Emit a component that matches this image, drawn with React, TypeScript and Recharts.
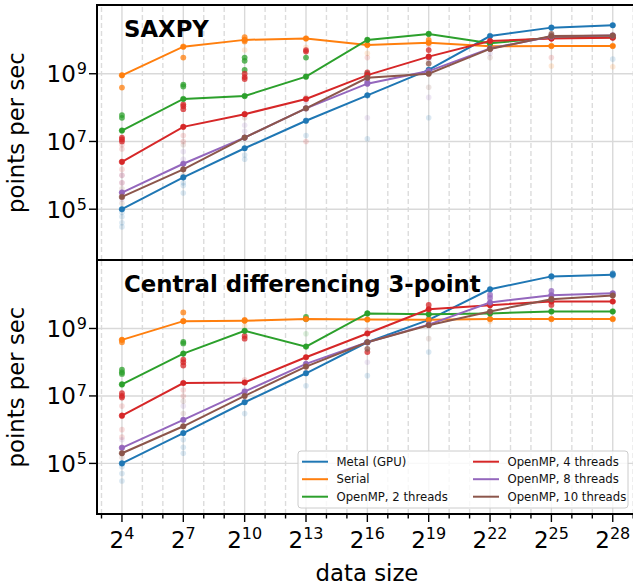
import React from 'react';
import { ComposedChart, Line, Scatter, XAxis, YAxis, ReferenceLine } from 'recharts';

// data sizes are powers of two, measured at these exponents
const sizeExponents = [4, 7, 10, 13, 16, 19, 22, 25, 28];
const gridExponents = [3, 4, 5, 6, 7, 8, 9, 10, 11, 12, 13, 14, 15, 16, 17, 18, 19, 20, 21, 22, 23, 24, 25, 26, 27, 28, 29];
const yTickValues = [1e5, 1e7, 1e9];

const seriesKeys = ['metal', 'serial', 'omp2', 'omp4', 'omp8', 'omp10'];
const seriesNames = ['Metal (GPU)', 'Serial', 'OpenMP, 2 threads', 'OpenMP, 4 threads', 'OpenMP, 8 threads', 'OpenMP, 10 threads'];
const seriesColors = ['#1f77b4', '#ff7f0e', '#2ca02c', '#d62728', '#9467bd', '#8c564b'];

// SAXPY, points per sec (median line)
const saxpyMetal = [1.0e5, 8.7e5, 6.3e6, 4.1e7, 2.3e8, 1.3e9, 1.3e10, 2.3e10, 2.7e10];
const saxpySerial = [9.0e8, 6.3e9, 1.0e10, 1.1e10, 7.1e9, 8.2e9, 6.5e9, 6.6e9, 6.6e9];
const saxpyOmp2 = [2.1e7, 1.8e8, 2.2e8, 8.2e8, 1.0e10, 1.5e10, 8.0e9, 1.15e10, 1.2e10];
const saxpyOmp4 = [2.5e6, 2.7e7, 6.4e7, 1.8e8, 9.1e8, 3.2e9, 9.3e9, 1.1e10, 1.15e10];
const saxpyOmp8 = [3.1e5, 2.2e6, 1.3e7, 9.5e7, 5.1e8, 1.2e9, 5.6e9, 1.25e10, 1.35e10];
const saxpyOmp10 = [2.3e5, 1.5e6, 1.3e7, 9.5e7, 7.6e8, 1.0e9, 5.4e9, 1.3e10, 1.35e10];

// Central differencing 3-point
const cdMetal = [1.0e5, 7.9e5, 6.5e6, 4.7e7, 3.9e8, 1.8e9, 1.45e10, 3.5e10, 3.9e10];
const cdSerial = [4.6e8, 1.65e9, 1.7e9, 1.9e9, 1.85e9, 1.8e9, 1.9e9, 1.9e9, 1.9e9];
const cdOmp2 = [2.2e7, 1.8e8, 8.5e8, 2.9e8, 2.8e9, 2.65e9, 2.8e9, 3.2e9, 3.2e9];
const cdOmp4 = [2.6e6, 2.4e7, 2.5e7, 1.4e8, 7.1e8, 3.7e9, 4.9e9, 6.3e9, 6.3e9];
const cdOmp8 = [2.9e5, 1.95e6, 1.35e7, 8.9e7, 3.9e8, 1.3e9, 5.9e9, 9.7e9, 1.1e10];
const cdOmp10 = [2.0e5, 1.26e6, 1.0e7, 7.4e7, 3.9e8, 1.25e9, 3.2e9, 7.4e9, 9.5e9];

// individual runs: [series index, exponent, points per sec]
type Sample = [number, number, number];

const saxpyRuns: Sample[] = [
  [1, 4, 3.9e8], [2, 4, 6e7], [2, 4, 5e7], [3, 4, 1.3e7], [3, 4, 1.0e7], [3, 4, 1.15e7],
  [1, 7, 3e9], [2, 7, 4.8e8], [2, 7, 4.2e8], [3, 7, 1.1e8], [3, 7, 9e7], [3, 7, 1.25e8],
  [1, 10, 1.2e10], [1, 10, 9e9], [2, 10, 3e9], [2, 10, 2.4e9], [2, 10, 1.3e9], [3, 10, 8e8], [3, 10, 1e9], [3, 10, 7e8],
  [3, 13, 4.5e9], [3, 13, 5e9], [2, 13, 3e9],
  [5, 16, 1.0e9], [3, 16, 1.1e9], [4, 16, 6e8],
  [3, 19, 5e9], [5, 19, 2e9], [4, 19, 3e9], [1, 19, 1e10],
  [5, 22, 7e9], [5, 25, 1.5e10], [3, 25, 1.1e10],
];
const saxpyFaintRuns: Sample[] = [
  [0, 4, 8e4], [0, 4, 6e4], [0, 4, 4e4], [0, 4, 3e4], [3, 4, 8e6], [3, 4, 6e6], [3, 4, 1.5e6], [3, 4, 1e6],
  [3, 4, 6e5], [3, 4, 3e5], [4, 4, 6e5], [5, 4, 4e5], [4, 4, 1e6], [5, 4, 1.5e5], [4, 4, 2e5],
  [0, 7, 5e5], [0, 7, 3e5], [0, 7, 6e5], [4, 7, 5e6], [5, 7, 8e6], [3, 7, 1e7], [3, 7, 1.5e7], [4, 7, 3e6], [5, 7, 1e6],
  [0, 10, 3e6], [0, 10, 4e6], [4, 10, 3e7], [5, 10, 5e7], [4, 10, 2e7], [1, 10, 5e9],
  [0, 13, 1.5e7], [5, 13, 2e8], [4, 13, 1.5e8], [3, 13, 1e7], [1, 13, 6e9],
  [0, 16, 1.2e7], [4, 16, 5e7], [3, 16, 3e9], [1, 16, 4e9],
  [0, 19, 5e7], [4, 19, 2e8], [5, 19, 4e8], [3, 19, 7e9], [5, 19, 2.5e9],
  [5, 22, 3e9], [4, 22, 4e9], [3, 25, 3e9], [1, 25, 1.7e9], [0, 28, 2.7e9], [1, 28, 1.6e9],
];

const cdRuns: Sample[] = [
  [1, 4, 3.9e8], [2, 4, 6e7], [2, 4, 5e7], [2, 4, 4.5e7], [3, 4, 1.2e7], [3, 4, 1.0e7], [3, 4, 9e6],
  [1, 7, 3e9], [2, 7, 4e8], [2, 7, 3.6e8], [3, 7, 1e8], [3, 7, 8e7], [3, 7, 1.2e8],
  [1, 10, 1.8e9], [3, 10, 6e8], [3, 10, 5e8],
  [2, 13, 2.2e9], [2, 13, 1.9e9],
  [3, 16, 2e8], [5, 16, 2.5e8], [3, 19, 5e9],
  [4, 22, 1.0e10], [4, 22, 8e9], [4, 25, 1.3e10], [3, 25, 5e9], [0, 28, 4.3e10],
];
const cdFaintRuns: Sample[] = [
  [0, 4, 8e4], [0, 4, 5e4], [0, 4, 3e4], [3, 4, 1e6], [3, 4, 6e5], [3, 4, 3e5], [4, 4, 5e5], [5, 4, 1.5e5], [3, 4, 5e6],
  [0, 7, 3e5], [0, 7, 5e5], [0, 7, 2e5], [3, 7, 1e7], [3, 7, 1.5e7], [4, 7, 5e6], [5, 7, 3e6], [5, 7, 7e6],
  [0, 10, 3e6], [3, 10, 3e7], [3, 10, 7e6], [4, 10, 1.5e7], [1, 10, 1.2e9],
  [0, 13, 2e7], [3, 13, 5e7], [2, 13, 7e8],
  [0, 16, 4e7], [4, 16, 1e8], [3, 16, 9e8],
  [0, 19, 2e8], [5, 19, 5e8], [1, 19, 1.5e9],
  [5, 22, 2e9], [1, 22, 1.6e9], [4, 25, 8e9], [0, 25, 3e10], [0, 28, 3.5e10],
];

const X_DOMAIN = [2 ** 2.78, 2 ** 29.22];
const Y_DOMAIN = [10 ** 3.5, 10 ** 11.03];
const FONT = 'DejaVu Sans, sans-serif';

const buildRows = (cols: number[][]) =>
  sizeExponents.map((e, i) => {
    const row: Record<string, number> = { x: 2 ** e };
    seriesKeys.forEach((k, s) => {
      row[k] = cols[s][i];
    });
    return row;
  });

const runsFor = (list: Sample[], s: number) =>
  list.filter((d) => d[0] === s).map((d) => ({ x: 2 ** d[1], y: d[2] }));

const saxpyRows = buildRows([saxpyMetal, saxpySerial, saxpyOmp2, saxpyOmp4, saxpyOmp8, saxpyOmp10]);
const cdRows = buildRows([cdMetal, cdSerial, cdOmp2, cdOmp4, cdOmp8, cdOmp10]);

const XTick = (props: any) => {
  const { x, y, payload } = props;
  const e = Math.round(Math.log2(payload.value));
  const major = sizeExponents.includes(e);
  return (
    <g>
      <line x1={x} x2={x} y1={y} y2={y + (major ? 8 : 4.5)} stroke="#000" strokeWidth={1.4} />
      {major && (
        <text x={x} y={y + 34} textAnchor="middle" fontSize={23} fill="#000" fontFamily={FONT}>
          <tspan>2</tspan>
          <tspan dy={-9} fontSize={16}>{e}</tspan>
        </text>
      )}
    </g>
  );
};

const YTick = (props: any) => {
  const { x, y, payload } = props;
  const e = Math.round(Math.log10(payload.value));
  return (
    <g>
      <line x1={x - 8} x2={x} y1={y} y2={y} stroke="#000" strokeWidth={1.4} />
      <text x={x - 10} y={y + 8.3} textAnchor="end" fontSize={23} fill="#000" fontFamily={FONT}>
        <tspan>10</tspan>
        <tspan dy={-8} dx={1} fontSize={16}>{e}</tspan>
      </text>
    </g>
  );
};

function Panel({ rows, runs, faintRuns, height, showX }: { rows: any[]; runs: Sample[]; faintRuns: Sample[]; height: number; showX: boolean }) {
  return (
    <ComposedChart width={660} height={height} margin={{ top: 5, right: 22.3, bottom: showX ? 0 : 2, left: 0 }}>
      <XAxis
        type="number"
        dataKey="x"
        scale="log"
        domain={X_DOMAIN}
        allowDataOverflow
        ticks={gridExponents.map((e) => 2 ** e)}
        interval={0}
        hide={!showX}
        height={73}
        axisLine={false}
        tickLine={false}
        tickSize={0}
        tickMargin={0}
        tick={XTick}
      />
      <YAxis
        type="number"
        scale="log"
        domain={Y_DOMAIN}
        allowDataOverflow
        ticks={yTickValues}
        interval={0}
        width={97}
        axisLine={false}
        tickLine={false}
        tickSize={0}
        tickMargin={0}
        tick={YTick}
      />
      {gridExponents.map((e) => (
        <ReferenceLine
          key={'gx' + e}
          x={2 ** e}
          stroke={sizeExponents.includes(e) ? '#d9d9d9' : '#dcdcdc'}
          strokeWidth={1.4}
          strokeDasharray={sizeExponents.includes(e) ? undefined : '5 3'}
        />
      ))}
      {yTickValues.map((v) => (
        <ReferenceLine key={'gy' + v} y={v} stroke="#d9d9d9" strokeWidth={1.4} />
      ))}
      {seriesKeys.map((k, s) => (
        <Scatter
          key={'f' + k}
          data={runsFor(faintRuns, s)}
          dataKey="y"
          isAnimationActive={false}
          shape={(p: any) => <circle cx={p.cx} cy={p.cy} r={2.8} fill={seriesColors[s]} fillOpacity={0.16} />}
        />
      ))}
      {seriesKeys.map((k, s) => (
        <Scatter
          key={'r' + k}
          data={runsFor(runs, s)}
          dataKey="y"
          isAnimationActive={false}
          shape={(p: any) => <circle cx={p.cx} cy={p.cy} r={2.9} fill={seriesColors[s]} fillOpacity={0.75} />}
        />
      ))}
      {seriesKeys.map((k, s) => (
        <Line
          key={k}
          data={rows}
          dataKey={k}
          name={seriesNames[s]}
          type="linear"
          stroke={seriesColors[s]}
          strokeWidth={2}
          dot={{ r: 2.8, fill: seriesColors[s], stroke: seriesColors[s], strokeWidth: 0.5 }}
          activeDot={false}
          isAnimationActive={false}
        />
      ))}
    </ComposedChart>
  );
}

export default function App() {
  const legendCols = [
    [0, 1, 2],
    [3, 4, 5],
  ];
  return (
    <div style={{ position: 'fixed', left: 0, top: 0, width: 633, height: 587, overflow: 'hidden', background: '#fff', fontFamily: FONT }}>
      <div style={{ position: 'absolute', left: 0, top: 0 }}>
        <Panel rows={saxpyRows} runs={saxpyRuns} faintRuns={saxpyFaintRuns} height={262} showX={false} />
      </div>
      <div style={{ position: 'absolute', left: 0, top: 255 }}>
        <Panel rows={cdRows} runs={cdRuns} faintRuns={cdFaintRuns} height={332} showX={true} />
      </div>
      <svg width={633} height={587} style={{ position: 'absolute', left: 0, top: 0, pointerEvents: 'none' }}>
        <rect x={97} y={5} width={560} height={255} fill="none" stroke="#000" strokeWidth={2} />
        <rect x={97} y={260} width={560} height={254} fill="none" stroke="#000" strokeWidth={2} />
        <text x={124} y={36.7} fontSize={22.8} fontWeight="bold" fontFamily={FONT} fill="#000">SAXPY</text>
        <text x={124} y={291.7} fontSize={22.8} fontWeight="bold" fontFamily={FONT} fill="#000">Central differencing 3-point</text>
        <text transform="translate(24,132.5) rotate(-90)" textAnchor="middle" fontSize={22.8} fontFamily={FONT} fill="#000">points per sec</text>
        <text transform="translate(24,387) rotate(-90)" textAnchor="middle" fontSize={22.8} fontFamily={FONT} fill="#000">points per sec</text>
        <text x={367} y={581} textAnchor="middle" fontSize={22.8} fontFamily={FONT} fill="#000">data size</text>
        <rect x={298} y={451} width={330} height={57} rx={3} fill="#fff" fillOpacity={0.8} stroke="#cccccc" strokeWidth={1} />
        {legendCols.map((col, c) =>
          col.map((s, r) => {
            const lx = c === 0 ? 302 : 473;
            const ly = 461.7 + r * 17.5;
            return (
              <g key={seriesKeys[s]}>
                <line x1={lx} x2={lx + 26} y1={ly} y2={ly} stroke={seriesColors[s]} strokeWidth={2} />
                <text x={lx + 34.5} y={ly + 4.2} fontSize={11.7} fontFamily={FONT} fill="#111">{seriesNames[s]}</text>
              </g>
            );
          })
        )}
      </svg>
    </div>
  );
}
